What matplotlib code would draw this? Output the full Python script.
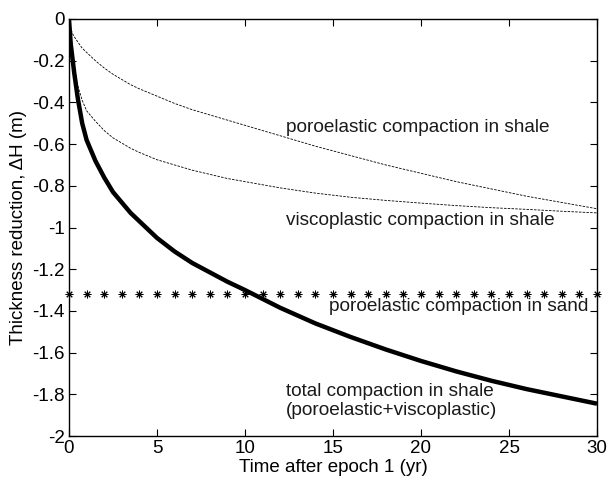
import matplotlib

matplotlib.use("Agg")
import matplotlib.pyplot as plt

plt.rcParams["font.family"] = ["Liberation Sans", "DejaVu Sans"]

# values
years = [0, 0.1, 0.2, 0.3, 0.5, 0.75, 1, 1.5, 2, 2.5, 3, 3.5, 4, 5, 6, 7, 8, 9, 10,
         12, 14, 16, 18, 20, 22, 24, 26, 28, 30]
poro_shale = [0, -0.045, -0.07, -0.085, -0.11, -0.14, -0.16, -0.20, -0.235, -0.265,
              -0.29, -0.315, -0.335, -0.37, -0.405, -0.435, -0.46, -0.485, -0.51,
              -0.56, -0.61, -0.655, -0.70, -0.74, -0.78, -0.815, -0.85, -0.88, -0.91]
visco_shale = [0, -0.11, -0.175, -0.225, -0.32, -0.39, -0.44, -0.49, -0.535, -0.57,
               -0.595, -0.62, -0.64, -0.675, -0.70, -0.725, -0.745, -0.765, -0.78,
               -0.81, -0.835, -0.855, -0.87, -0.883, -0.895, -0.905, -0.913, -0.922, -0.93]
total_shale = [0, -0.12, -0.19, -0.26, -0.38, -0.50, -0.58, -0.68, -0.76, -0.83,
               -0.88, -0.93, -0.97, -1.05, -1.115, -1.17, -1.215, -1.26, -1.30,
               -1.385, -1.46, -1.525, -1.585, -1.64, -1.69, -1.735, -1.775, -1.81, -1.845]
sand_years = [0, 1, 2, 3, 4, 5, 6, 7, 8, 9, 10, 11, 12, 13, 14, 15,
              16, 17, 18, 19, 20, 21, 22, 23, 24, 25, 26, 27, 28, 29, 30]
sand_level = -1.32
sand_thickness = [sand_level] * len(sand_years)

x_ticks = [0, 5, 10, 15, 20, 25, 30]
y_ticks = [0, -0.2, -0.4, -0.6, -0.8, -1, -1.2, -1.4, -1.6, -1.8, -2]
y_tick_labels = ["0", "-0.2", "-0.4", "-0.6", "-0.8", "-1", "-1.2", "-1.4", "-1.6", "-1.8", "-2"]

fig = plt.figure(figsize=(6.11, 4.82), dpi=100)
ax = fig.add_axes([0.1129, 0.0954, 0.8642, 0.8652])

dash = (0, (3, 1.5))
ax.plot(years, poro_shale, color="black", linewidth=0.6, linestyle=dash)
ax.plot(years, visco_shale, color="black", linewidth=0.6, linestyle=dash)
ax.plot(years, total_shale, color="black", linewidth=3.2, solid_capstyle="butt",
        solid_joinstyle="round")
ax.plot(sand_years, sand_thickness, linestyle="none", marker=(8, 2, 0), markersize=5.5,
        color="black", markeredgewidth=0.7, clip_on=False)

text_kw = dict(fontsize=13.7, color="#1a1a1a", va="center", ha="left")
ax.text(12.33, -0.52, "poroelastic compaction in shale", **text_kw)
ax.text(12.33, -0.967, "viscoplastic compaction in shale", **text_kw)
ax.text(14.77, -1.38, "poroelastic compaction in sand", **text_kw)
ax.text(12.33, -1.832, "total compaction in shale\n(poroelastic+viscoplastic)",
        linespacing=1.1, **text_kw)

ax.set_xlim(0, 30)
ax.set_ylim(-2, 0)
ax.set_xticks(x_ticks)
ax.set_yticks(y_ticks)
ax.set_yticklabels(y_tick_labels)
ax.tick_params(direction="in", top=True, right=True, length=5, width=0.8,
               labelsize=13.5, pad=3)
for spine in ax.spines.values():
    spine.set_linewidth(1.0)

ax.set_xlabel("Time after epoch 1 (yr)", fontsize=13.5, labelpad=1)
ax.set_ylabel("Thickness reduction, ΔH (m)", fontsize=13.5, labelpad=4)

fig.savefig("out.png", dpi=100)
